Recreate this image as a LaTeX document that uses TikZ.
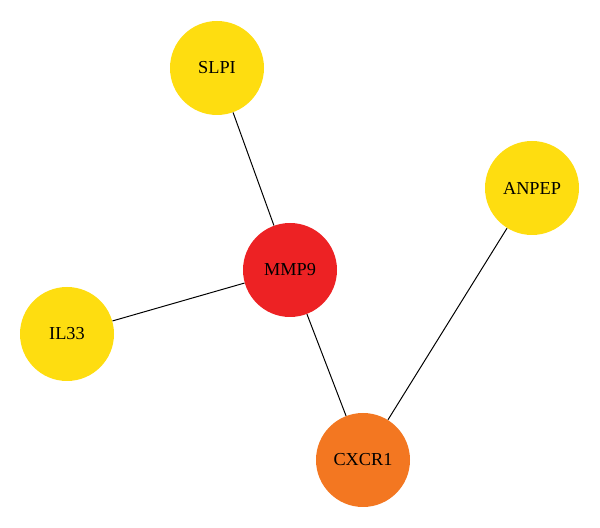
\documentclass[tikz,border=0pt]{standalone}
\usepackage{fontspec}
\setmainfont{Liberation Serif}
\definecolor{geneyellow}{HTML}{FEDD10}
\definecolor{genered}{HTML}{ED2224}
\definecolor{geneorange}{HTML}{F37721}
\begin{document}
\begin{tikzpicture}[every node/.style={font=\fontsize{13}{15}\selectfont},
    gene/.style={circle, minimum size=2.35cm, inner sep=0pt},
    link/.style={line width=0.7pt}]
    \useasboundingbox (0,0) rectangle (15,13.2);
    % genes
    \node[gene, fill=geneyellow] (slpi) at (5.425,11.5) {SLPI};
    \node[gene, fill=geneyellow] (anpep) at (13.3,8.5) {ANPEP};
    \node[gene, fill=genered] (mmp9) at (7.25,6.45) {MMP9};
    \node[gene, fill=geneyellow] (il33) at (1.675,4.85) {IL33};
    \node[gene, fill=geneorange] (cxcr1) at (9.075,1.7) {CXCR1};
    % interactions
    \draw[link] (slpi) -- (mmp9);
    \draw[link] (il33) -- (mmp9);
    \draw[link] (mmp9) -- (cxcr1);
    \draw[link] (anpep) -- (cxcr1);
  \end{tikzpicture}
\end{document}
